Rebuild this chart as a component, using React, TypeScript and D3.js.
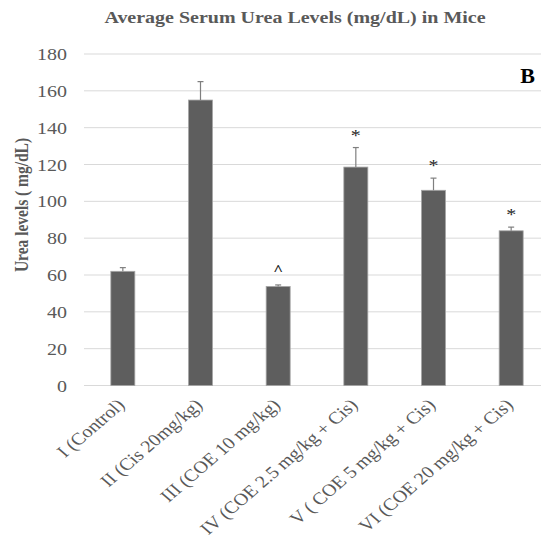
import React from "react";
import * as d3 from "d3";

const categories = [
  "I (Control)",
  "II (Cis 20mg/kg)",
  "III (COE 10 mg/kg)",
  "IV (COE 2.5 mg/kg + Cis)",
  "V ( COE 5 mg/kg + Cis)",
  "VI (COE 20 mg/kg + Cis)",
];
const means = [62, 155, 53.8, 118.6, 106, 84];
const errors = [2, 10, 0.8, 10.6, 6.6, 2];
const marks = ["", "", "^", "*", "*", "*"];
const yTicks = [0, 20, 40, 60, 80, 100, 120, 140, 160, 180];

const W = 541;
const H = 553;
const serif = "'Liberation Serif', 'Times New Roman', serif";
const grey = "#595959";
const sq = 0.86;

export default function App() {
  const x = d3.scaleBand<string>().domain(categories).range([84, 550]).paddingInner(0).paddingOuter(0);
  const y = d3.scaleLinear().domain([0, 180]).range([385.5, 54]);
  const barW = 24;
  return (
    <svg width={W} height={H} style={{ position: "absolute", left: 0, top: 0, background: "#fff" }}>
      <text transform={`translate(295,23) scale(1,${sq})`} textAnchor="middle" fontFamily={serif} fontWeight="bold" fontSize={20} fill={grey}>
        Average Serum Urea Levels (mg/dL) in Mice
      </text>
      {yTicks.map((t) => (
        <g key={t}>
          <line x1={84} x2={541} y1={y(t)} y2={y(t)} stroke="#d9d9d9" strokeWidth={1} />
          <text transform={`translate(67,${y(t) + 6}) scale(1,${sq})`} textAnchor="end" fontFamily={serif} fontSize={20} fill={grey}>
            {t}
          </text>
        </g>
      ))}
      <text
        transform={`translate(28,205) scale(1,${sq}) rotate(-90)`}
        textAnchor="middle"
        fontFamily={serif}
        fontWeight="bold"
        fontSize={18}
        fill={grey}
      >
        Urea levels ( mg/dL)
      </text>
      <text x={535} y={83} textAnchor="end" fontFamily={serif} fontWeight="bold" fontSize={22} fill="#000">
        B
      </text>
      {categories.map((c, i) => {
        const cx = (x(c) as number) + x.bandwidth() / 2;
        const top = y(means[i]);
        const et = y(means[i] + errors[i]);
        const isCaret = marks[i] === "^";
        return (
          <g key={c}>
            <rect x={cx - barW / 2} y={top} width={barW} height={y(0) - top} fill="#5e5e5e" stroke="#a6a6a6" strokeWidth={0.8} />
            <line x1={cx} x2={cx} y1={top} y2={et} stroke="#7f7f7f" strokeWidth={1.2} />
            <line x1={cx - 3} x2={cx + 3} y1={et} y2={et} stroke="#7f7f7f" strokeWidth={1.2} />
            {marks[i] && (
              <text
                transform={`translate(${cx},${isCaret ? et - 10 : et - 7}) scale(1,${sq})`}
                textAnchor="middle"
                fontFamily={serif}
                fontSize={isCaret ? 17 : 20}
                fontWeight={isCaret ? "bold" : "normal"}
                fill="#222"
              >
                {marks[i]}
              </text>
            )}
            <text
              transform={`translate(${cx + 3},${406}) scale(1,${sq}) rotate(-45)`}
              textAnchor="end"
              fontFamily={serif}
              fontSize={20}
              fill={grey}
            >
              {c}
            </text>
          </g>
        );
      })}
    </svg>
  );
}
